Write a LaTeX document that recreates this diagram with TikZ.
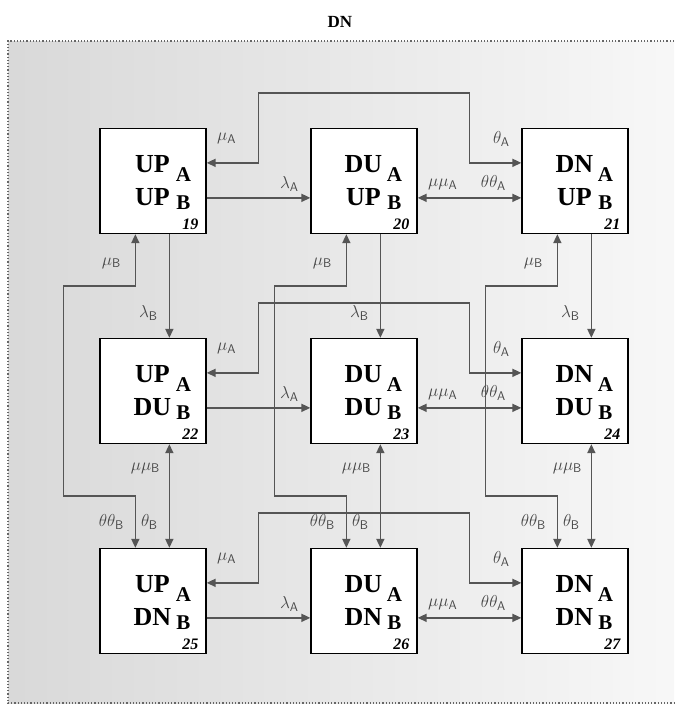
\documentclass[tikz,border=0pt]{standalone}
\usepackage{fontspec}
\setmainfont{Liberation Serif}
\usetikzlibrary{arrows.meta, calc}
\definecolor{cline}{HTML}{555555}
\definecolor{clabel}{HTML}{474747}
\tikzset{
  state/.style={draw=black, fill=white, line width=1.3pt, minimum width=106pt, minimum height=105pt, inner sep=0pt},
  big/.style={font=\fontsize{26}{28}\selectfont\bfseries, inner sep=0pt},
  sub/.style={font=\fontsize{21}{23}\selectfont\bfseries, inner sep=0pt},
  num/.style={font=\fontsize{16}{18}\selectfont\bfseries\itshape, inner sep=0pt, anchor=east},
  rate/.style={font=\fontsize{18}{20}\selectfont, text=clabel, inner sep=0pt},
  link/.style={draw=cline, line width=1.6pt, -{Triangle[length=9pt, width=8pt]}},
  both/.style={link, {Triangle[length=9pt, width=8pt]}-{Triangle[length=9pt, width=8pt]}},
}

\begin{document}
\begin{tikzpicture}[x=1pt, y=-1pt]
  \useasboundingbox (0,0) rectangle (678,705);
  \shade[left color=black!15, right color=black!3] (8,41) rectangle (674,703);
  \draw[black!60, dotted, line width=1.2pt] (674,41) -- (8,41) -- (8,703) -- (674,703);
  \node[font=\fontsize{17}{19}\selectfont\bfseries] (title) at (340,22) {DN};
  % states: top line = A, bottom line = B
  \foreach \sa [count=\i from 0] in {UP,DU,DN}
    \foreach \sb [count=\j from 0] in {UP,DU,DN} {
      \pgfmathtruncatemacro\n{19+\i+3*\j}
      \node[state] (s\n) at (153+211*\i, 181+210*\j) {};
      \node[big] (a\n) at ($(s\n.north west)+(53,36)$) {\sa};
      \node[big] (b\n) at ($(s\n.north west)+(53,69)$) {\sb};
      \node[sub] (la\n) at ($(s\n.north west)+(84,47)$) {A};
      \node[sub] (lb\n) at ($(s\n.north west)+(84,75)$) {B};
      \node[num] (n\n) at ($(s\n.north east)+(-8,96)$) {\n};
    }
  % A transitions
  \foreach \l/\m/\r in {19/20/21, 22/23/24, 25/26/27} {
    \draw[both] ($(s\l.north east)+(0,35)$) -| ($(s\l.north east)!.5!(s\m.north west)+(0,-35)$) -| ($(s\m.north east)!.5!(s\r.north west)+(0,35)$) -- ($(s\r.north west)+(0,35)$);
    \draw[link] ($(s\l.north east)+(0,70)$) -- ($(s\m.north west)+(0,70)$);
    \draw[both] ($(s\m.north east)+(0,70)$) -- ($(s\r.north west)+(0,70)$);
    \node[rate] (muA\l) at ($(s\l.north east)+(20,11)$) {$\mu_{\mathsf{A}}$};
    \node[rate] (thA\l) at ($(s\r.north west)+(-20,11)$) {$\theta_{\mathsf{A}}$};
    \node[rate] (laA\l) at ($(s\m.north west)+(-21,56)$) {$\lambda_{\mathsf{A}}$};
    \node[rate] (mmA\l) at ($(s\m.north east)+(25,57)$) {$\mu\mu_{\mathsf{A}}$};
    \node[rate] (ttA\l) at ($(s\r.north west)+(-28,55)$) {$\theta\theta_{\mathsf{A}}$};
  }
  % B transitions
  \foreach \t/\m/\b in {19/22/25, 20/23/26, 21/24/27} {
    \draw[link] ($(s\t.south west)+(70,0)$) -- ($(s\m.north west)+(70,0)$);
    \draw[both] ($(s\t.south west)+(36,0)$) |- ($(s\t.south west)!.5!(s\m.north west)+(-36,0)$) |- ($(s\m.south west)!.5!(s\b.north west)+(36,0)$) -- ($(s\b.north west)+(36,0)$);
    \draw[both] ($(s\m.south west)+(70,0)$) -- ($(s\b.north west)+(70,0)$);
    \node[rate] (muB\t) at ($(s\t.south west)+(12,29)$) {$\mu_{\mathsf{B}}$};
    \node[rate] (laB\t) at ($(s\t.south west)+(49,79)$) {$\lambda_{\mathsf{B}}$};
    \node[rate] (mmB\t) at ($(s\m.south west)+(46,24)$) {$\mu\mu_{\mathsf{B}}$};
    \node[rate] (ttB\t) at ($(s\m.south west)+(12,78)$) {$\theta\theta_{\mathsf{B}}$};
    \node[rate] (thB\t) at ($(s\m.south west)+(50,78)$) {$\theta_{\mathsf{B}}$};
  }
\end{tikzpicture}
\end{document}
